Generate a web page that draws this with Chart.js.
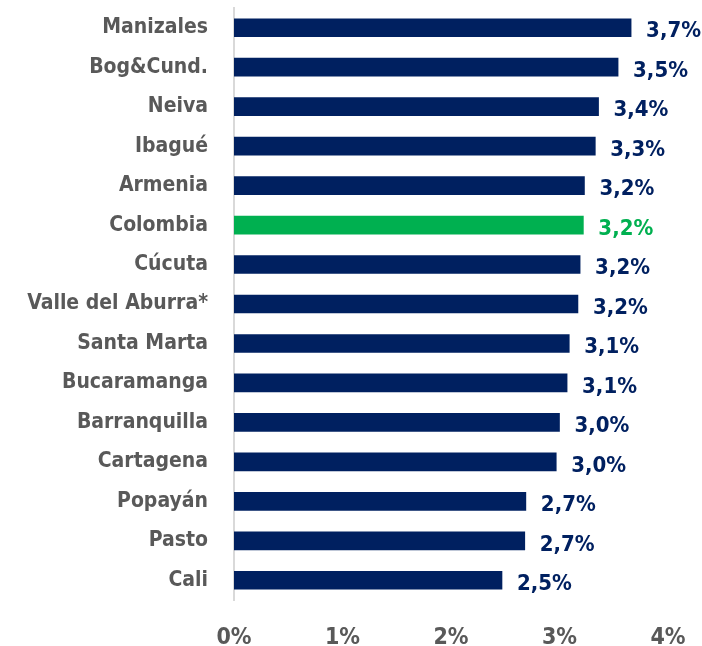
<!DOCTYPE html>
<html>
<head>
<meta charset="utf-8">
<script src="https://cdn.jsdelivr.net/npm/chart.js@4"></script>
<style>
  html, body { margin: 0; padding: 0; background: #fff; }
  #wrap { width: 702px; height: 646px; }
</style>
</head>
<body>
<div id="wrap"><canvas id="c" width="702" height="646"></canvas></div>
<script>
const cities = [
  'Manizales', 'Bog&Cund.', 'Neiva', 'Ibagué', 'Armenia', 'Colombia', 'Cúcuta',
  'Valle del Aburra*', 'Santa Marta', 'Bucaramanga', 'Barranquilla', 'Cartagena',
  'Popayán', 'Pasto', 'Cali'
];
const growth = [3.66, 3.54, 3.36, 3.33, 3.23, 3.22, 3.19, 3.17, 3.09, 3.07, 3.00, 2.97, 2.69, 2.68, 2.47];
const xTicks = [0, 1, 2, 3, 4];

const navy = '#002060';
const green = '#00b050';
const gray = '#595959';
const font = '"Liberation Sans Narrow", "DejaVu Sans Condensed", sans-serif';

const barColors = cities.map(c => c === 'Colombia' ? green : navy);

const valueLabels = {
  id: 'valueLabels',
  afterDatasetsDraw(chart) {
    const {ctx} = chart;
    const meta = chart.getDatasetMeta(0);
    ctx.save();
    ctx.font = 'bold 22px ' + font;
    ctx.textBaseline = 'middle';
    ctx.textAlign = 'left';
    meta.data.forEach((bar, i) => {
      ctx.fillStyle = barColors[i];
      const txt = growth[i].toFixed(1).replace('.', ',') + '%';
      ctx.fillText(txt, bar.x + 15, bar.y + 4);
    });
    ctx.restore();
  }
};

new Chart(document.getElementById('c'), {
  type: 'bar',
  data: {
    labels: cities,
    datasets: [{
      data: growth,
      backgroundColor: barColors,
      barThickness: 18
    }]
  },
  options: {
    indexAxis: 'y',
    responsive: false,
    animation: false,
    layout: { padding: { top: 8, right: 34, left: 0, bottom: 0 } },
    plugins: { legend: { display: false }, tooltip: { enabled: false } },
    scales: {
      y: {
        grid: { display: false },
        border: { display: true, color: '#d9d9d9', width: 2 },
        ticks: { color: gray, font: { family: font, size: 21, weight: 'bold' }, padding: 18 },
        afterFit(scale) {
          scale.width = 234;
          scale.paddingTop = 0;
          scale.paddingBottom = 0;
        }
      },
      x: {
        min: 0,
        max: 4,
        afterBuildTicks(scale) { scale.ticks = xTicks.map(v => ({ value: v })); },
        grid: { display: false },
        border: { display: false },
        ticks: {
          color: gray,
          font: { family: font, size: 23, weight: 'bold' },
          padding: 16,
          callback: v => v + '%'
        },
        afterFit(scale) {
          scale.height = 46;
          scale.paddingLeft = 0;
          scale.paddingRight = 0;
        }
      }
    }
  },
  plugins: [valueLabels]
});
</script>
</body>
</html>
